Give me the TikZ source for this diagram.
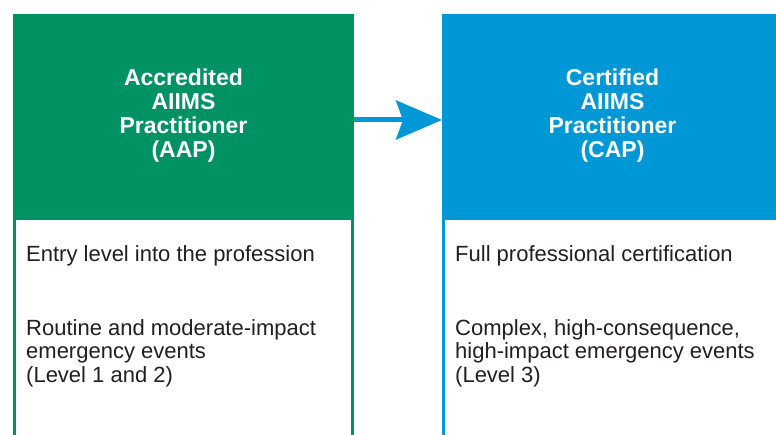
\documentclass[tikz,border=0pt]{standalone}
\usepackage{fontspec}
\setmainfont{Liberation Sans}
\usetikzlibrary{positioning,arrows.meta}
\definecolor{aapgreen}{RGB}{0,146,99}
\definecolor{capblue}{RGB}{0,151,214}
\definecolor{bodytext}{RGB}{35,31,32}

\begin{document}
\begin{tikzpicture}[x=1pt, y=-1pt,
  head/.style={rectangle, minimum width=341pt, minimum height=204.8pt, inner sep=0pt, outer sep=0pt,
    align=center, text=white, font=\fontsize{23}{24}\selectfont\bfseries},
  body/.style={rectangle, line width=2.8pt, fill=white, minimum width=338.2pt, minimum height=260pt,
    inner sep=0pt, outer sep=0pt},
  item/.style={anchor=base west, inner sep=0pt, align=left, text=bodytext,
    font=\fontsize{22}{23.7}\selectfont},
  link/.style={line width=5pt, capblue, -{Stealth[length=46pt, width=39pt, inset=7pt]}}]
  \clip (0,0) rectangle (776,435);
  % the two levels
  \node[head, fill=aapgreen] (aap) at (183.5,116) {Accredited\\AIIMS\\Practitioner\\(AAP)};
  \node[head, fill=capblue, right=88pt of aap] (cap) {Certified\\AIIMS\\Practitioner\\(CAP)};
  \node[body, draw=aapgreen, anchor=north] (aapbody) at (aap.south) {};
  \node[body, draw=capblue, anchor=north] (capbody) at (cap.south) {};
  % what each level covers (base sits on the last line)
  \node[item] (aap1) at (26,262) {Entry level into the profession};
  \node[item] (aap2) at (26,382.5) {Routine and moderate-impact\\emergency events\\(Level 1 and 2)};
  \node[item] (cap1) at (455,262) {Full professional certification};
  \node[item] (cap2) at (455,382.5) {Complex, high-consequence,\\high-impact emergency events\\(Level 3)};
  \draw[link] ([yshift=-4pt]aap.east) -- ([yshift=-4pt]cap.west);
\end{tikzpicture}
\end{document}
